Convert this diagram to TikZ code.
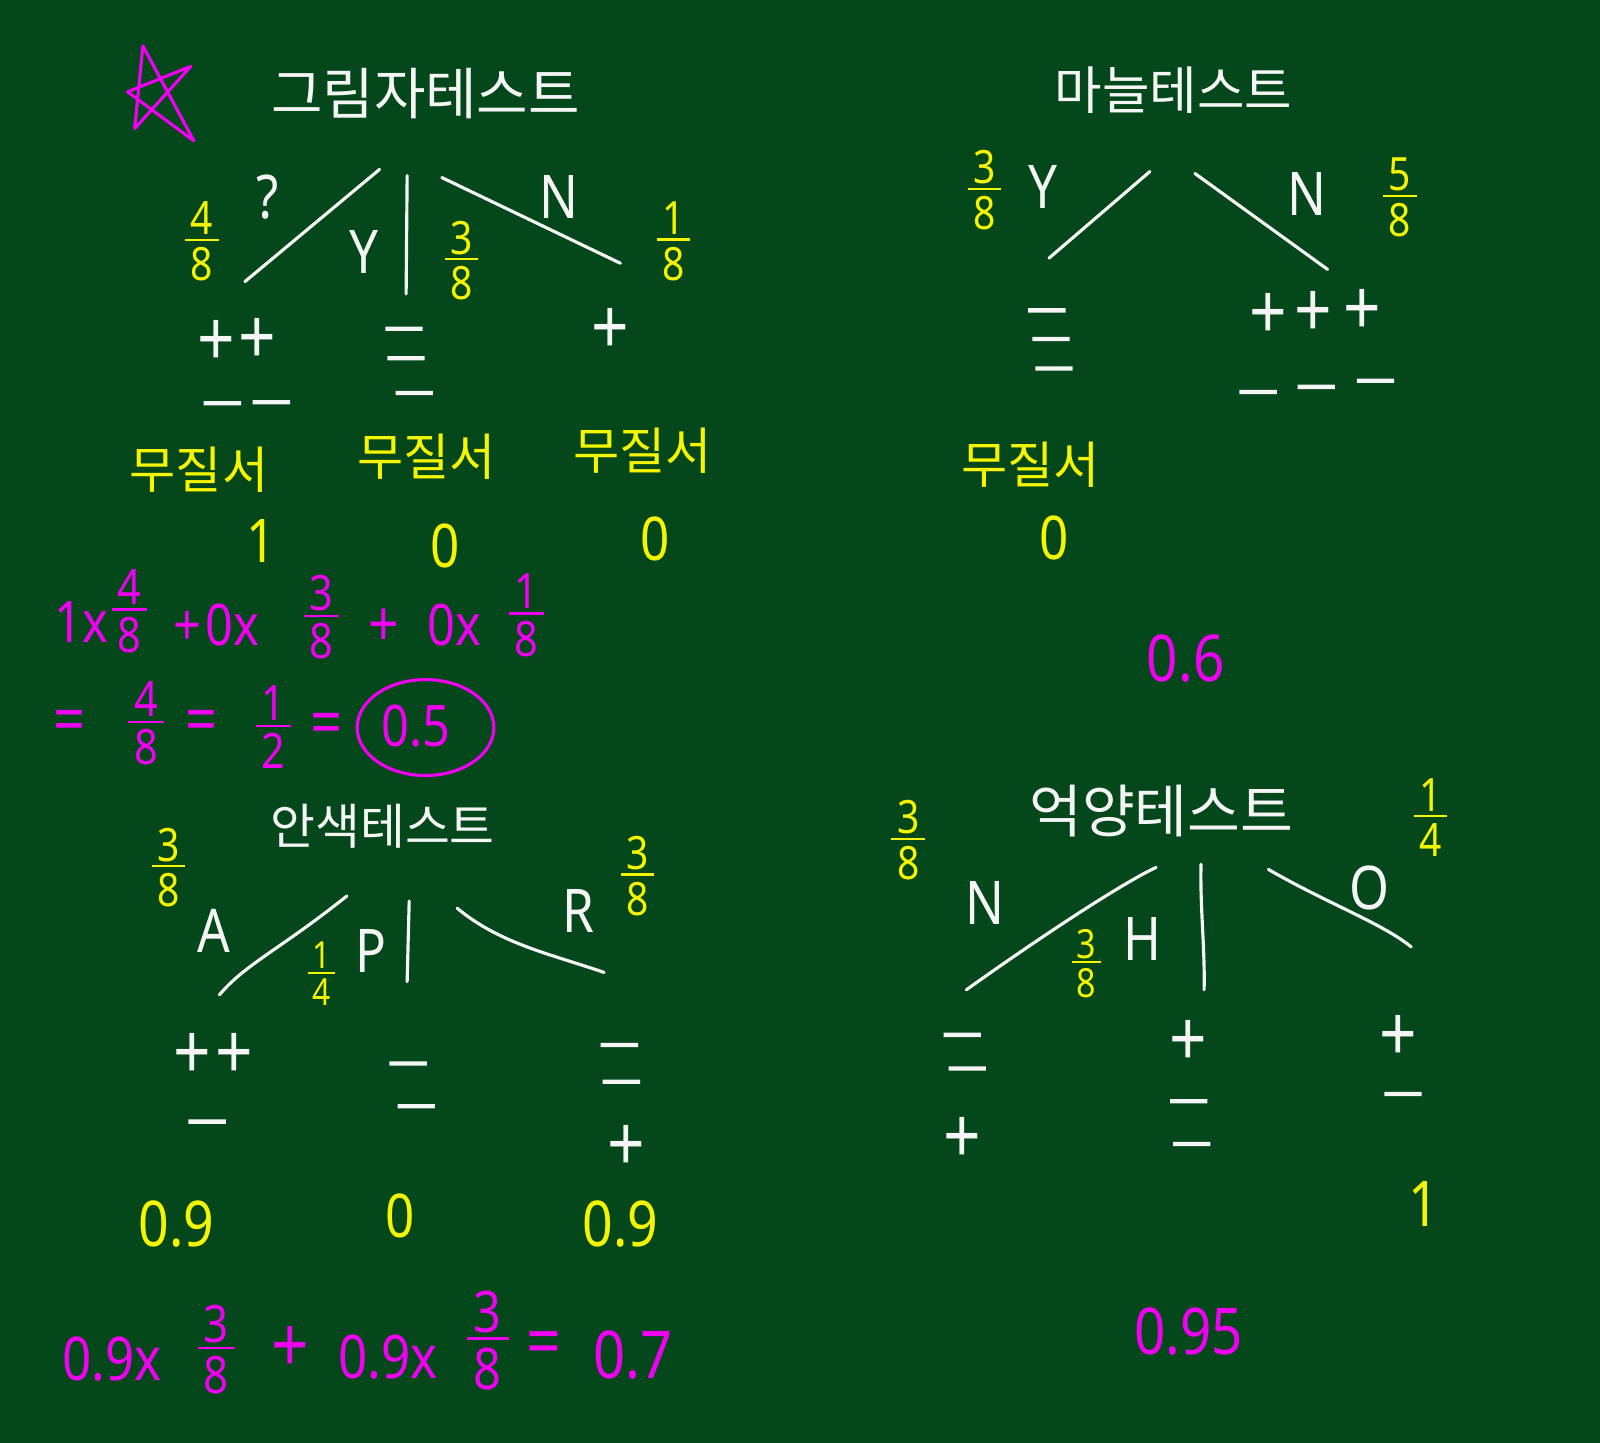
\documentclass[tikz,border=0pt]{standalone}
\usepackage{fontspec}
\setmainfont{Noto Sans}
\newfontfamily\kr{Noto Sans CJK KR}
\newfontfamily\hand{Noto Sans}[FakeStretch=0.85]
\newfontfamily\dashf{Noto Sans}[FakeStretch=2.6,FakeBold=8]
\definecolor{board}{RGB}{3,71,27}
\definecolor{chalkw}{RGB}{245,245,245}
\definecolor{chalky}{RGB}{245,245,0}
\definecolor{chalkm}{RGB}{240,0,240}
\newcommand\fr[2]{{\setlength\arrayrulewidth{0.05em}\begin{tabular}{@{\hspace{0.12em}}c@{\hspace{0.12em}}}#1\\[-0.22em]\hline\rule{0pt}{0.86em}#2\end{tabular}}}
\begin{document}
\begin{tikzpicture}[x=0.025cm,y=-0.025cm,
  every node/.style={inner sep=0pt},
  ttl/.style={text=chalkw,font=\kr\fontsize{#1}{#1}\selectfont},
  kor/.style={text=chalky,font=\kr\fontsize{35}{35}\selectfont},
  yfr/.style={text=chalky,font=\hand\fontsize{#1}{#1}\selectfont},
  yfr/.default=32,
  mfr/.style={text=chalkm,font=\hand\fontsize{#1}{#1}\selectfont},
  mfr/.default=34,
  ltr/.style={text=chalkw,font=\hand\fontsize{42}{42}\selectfont},
  pm/.style={text=chalkw,font=\hand\fontsize{54}{54}\selectfont},
  mn/.style={text=chalkw,font=\dashf\fontsize{20}{20}\selectfont,yshift=-0.09cm},
  yv/.style={text=chalky,font=\hand\fontsize{#1}{#1}\selectfont},
  yv/.default=42,
  mv/.style={text=chalkm,font=\hand\fontsize{#1}{#1}\selectfont},
  mv/.default=40,
  branch/.style={draw=chalkw,line width=2.2pt,line cap=round,line join=round},
  magline/.style={draw=chalkm,line width=2.2pt,line cap=round,line join=round}]
\fill[board] (0,0) rectangle (1568,1414);
\useasboundingbox (0,0) rectangle (1568,1414);

% ===== top left: shadow test =====
\coordinate (s1) at (140,45);
\coordinate (s2) at (190,138);
\coordinate (s3) at (125,90);
\coordinate (s4) at (187,65);
\coordinate (s5) at (132,126);
\draw[magline] (s1) -- (s2) -- (s3) -- (s4) -- (s5) -- cycle;
\node[ttl=39] (t1) at (417,92) {그림자테스트};
\coordinate (a1) at (372,166); \coordinate (a2) at (240,276);
\coordinate (a3) at (399,172); \coordinate (a4) at (398,288);
\coordinate (a5) at (433,174); \coordinate (a6) at (608,258);
\draw[branch] (a1) -- (a2);
\draw[branch] (a3) -- (a4);
\draw[branch] (a5) -- (a6);
\node[ltr] (q1) at (262,193) {?};
\node[ltr] (y1) at (357,247) {Y};
\node[ltr] (n1) at (548,193) {N};
\node[yfr] (f1) at (198,243) {\fr{4}{8}};
\node[yfr] (f2) at (452,262) {\fr{3}{8}};
\node[yfr] (f3) at (660,243) {\fr{1}{8}};
\node[pm] (p1) at (212,337) {+};
\node[pm] (p2) at (252,335) {+};
\node[mn] (m1) at (218,396) {−};
\node[mn] (m2) at (266,395) {−};
\node[mn] (m3) at (396,323) {−};
\node[mn] (m4) at (398,352) {−};
\node[mn] (m5) at (406,386) {−};
\node[pm] (p3) at (598,325) {+};
\node[kor] (k1) at (195,460) {무질서};
\node[kor] (k2) at (418,448) {무질서};
\node[kor] (k3) at (630,442) {무질서};
\node[yv] (v1) at (256,530) {1};
\node[yv] (v2) at (436,535) {0};
\node[yv] (v3) at (642,528) {0};
% equation 1
\node[mv] (e1) at (80,610) {1x};
\node[mfr] (e2) at (127,606) {\fr{4}{8}};
\node[mv] (e3) at (212,612) {+\hspace{3pt}0x};
\node[mfr] (e4) at (315,612) {\fr{3}{8}};
\node[mv=44] (e5) at (376,615) {+};
\node[mv] (e6) at (445,612) {0x};
\node[mfr] (e7) at (516,610) {\fr{1}{8}};
% equation 2
\node[mv=46] (g1) at (68,712) {=};
\node[mfr] (g2) at (143,716) {\fr{4}{8}};
\node[mv=46] (g3) at (198,712) {=};
\node[mfr] (g4) at (268,720) {\fr{1}{2}};
\node[mv=46] (g5) at (320,715) {=};
\node[mv=40] (g6) at (408,712) {0.5};
\draw[magline] (417,713) ellipse [x radius=1.675cm, y radius=1.175cm];

% ===== top right: garlic test =====
\node[ttl=36] (t2) at (1150,88) {마늘테스트};
\coordinate (b1) at (1127,168); \coordinate (b2) at (1028,253);
\coordinate (b3) at (1171,170); \coordinate (b4) at (1301,264);
\draw[branch] (b1) -- (b2);
\draw[branch] (b3) -- (b4);
\node[yfr] (f4) at (965,193) {\fr{3}{8}};
\node[yfr] (f5) at (1372,200) {\fr{5}{8}};
\node[ltr] (y2) at (1022,183) {Y};
\node[ltr] (n2) at (1281,190) {N};
\node[mn] (m6) at (1026,305) {−};
\node[mn] (m7) at (1030,333) {−};
\node[mn] (m8) at (1033,362) {−};
\node[pm] (p4) at (1243,310) {+};
\node[pm] (p5) at (1287,308) {+};
\node[pm] (p6) at (1335,306) {+};
\node[mn] (m9) at (1233,385) {−};
\node[mn] (m10) at (1290,380) {−};
\node[mn] (m11) at (1348,374) {−};
\node[kor] (k4) at (1010,455) {무질서};
\node[yv] (v4) at (1033,527) {0};
\node[mv=45] (r1) at (1162,645) {0.6};

% ===== bottom left: complexion test =====
\node[ttl=34] (t3) at (375,810) {안색테스트};
\node[yfr] (f6) at (165,857) {\fr{3}{8}};
\node[ltr] (l1) at (210,912) {A};
\coordinate (c1) at (340,878); \coordinate (c2) at (215,975);
\coordinate (c3) at (401,883); \coordinate (c4) at (399,962);
\coordinate (c5) at (448,890); \coordinate (c6) at (592,953);
\draw[branch] (c1) .. controls (275,930) and (240,945) .. (c2);
\draw[branch] (c3) -- (c4);
\draw[branch] (c5) .. controls (490,925) and (540,935) .. (c6);
\node[yfr=26] (f7) at (315,960) {\fr{1}{4}};
\node[ltr] (l2) at (364,932) {P};
\node[ltr] (l3) at (567,893) {R};
\node[yfr] (f8) at (625,865) {\fr{3}{8}};
\node[pm] (p7) at (188,1035) {+};
\node[pm] (p8) at (230,1035) {+};
\node[mn] (m12) at (203,1100) {−};
\node[mn] (m13) at (400,1043) {−};
\node[mn] (m14) at (408,1085) {−};
\node[mn] (m15) at (607,1025) {−};
\node[mn] (m16) at (609,1061) {−};
\node[pm] (p9) at (614,1125) {+};
\node[yv=44] (v5) at (173,1200) {0.9};
\node[yv] (v6) at (392,1192) {0};
\node[yv=44] (v7) at (608,1200) {0.9};
% equation 3
\node[mv=42] (h1) at (110,1332) {0.9x};
\node[mfr=36] (h2) at (212,1330) {\fr{3}{8}};
\node[mv=54] (h3) at (285,1322) {+};
\node[mv=42] (h4) at (380,1330) {0.9x};
\node[mfr=40] (h5) at (478,1322) {\fr{3}{8}};
\node[mv=50] (h6) at (533,1322) {=};
\node[mv=46] (h7) at (620,1328) {0.7};

% ===== bottom right: intonation test =====
\node[ttl=40] (t4) at (1138,795) {억양테스트};
\node[yfr] (f9) at (890,830) {\fr{3}{8}};
\node[yfr] (f10) at (1402,808) {\fr{1}{4}};
\node[ltr] (l4) at (965,885) {N};
\coordinate (d1) at (1133,850); \coordinate (d2) at (947,970);
\coordinate (d3) at (1177,847); \coordinate (d4) at (1180,970);
\coordinate (d5) at (1243,852); \coordinate (d6) at (1383,928);
\draw[branch] (d1) .. controls (1095,868) and (1010,925) .. (d2);
\draw[branch] (d3) .. controls (1176,890) and (1181,930) .. (d4);
\draw[branch] (d5) .. controls (1300,885) and (1355,905) .. (d6);
\node[yfr=28] (f11) at (1065,950) {\fr{3}{8}};
\node[ltr] (l5) at (1120,920) {H};
\node[ltr] (l6) at (1342,870) {O};
\node[mn] (m17) at (943,1015) {−};
\node[mn] (m18) at (948,1048) {−};
\node[pm] (p10) at (943,1118) {+};
\node[pm] (p11) at (1165,1023) {+};
\node[mn] (m19) at (1165,1080) {−};
\node[mn] (m20) at (1168,1122) {−};
\node[pm] (p12) at (1370,1018) {+};
\node[mn] (m21) at (1375,1073) {−};
\node[yv=44] (v8) at (1395,1180) {1};
\node[mv=45] (r2) at (1165,1305) {0.95};
\end{tikzpicture}
\end{document}
